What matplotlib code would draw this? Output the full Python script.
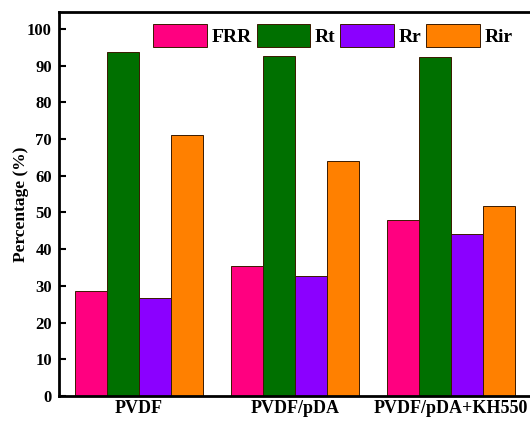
import numpy as np
from matplotlib import pyplot as plt

# data
membranes = ["PVDF", "PVDF/pDA", "PVDF/pDA+KH550"]
series = ["FRR", "Rt", "Rr", "Rir"]
frr = [28.6, 35.3, 47.9]
rt = [93.6, 92.5, 92.3]
rr = [26.7, 32.8, 44.1]
rir = [71.0, 64.1, 51.8]
colors = ["#FF0080", "#007000", "#8B00FF", "#FF8000"]

plt.rcParams['font.family'] = ['Liberation Serif', 'DejaVu Serif']
plt.rcParams['font.weight'] = 'bold'

fig = plt.figure(figsize=(5.3, 4.21), dpi=100)
ax = fig.add_axes([0.111, 0.0594, 0.8906, 0.912])

x = np.arange(len(membranes))
w = 0.205
for i, (name, vals) in enumerate(zip(series, [frr, rt, rr, rir])):
    ax.bar(x + (i - 1.5) * w, vals, w, color=colors[i], edgecolor="#3a1a00",
           linewidth=0.7, label=name)

ax.set_xlim(-0.513, 2.513)
ax.set_ylim(0, 104.6)
ax.set_yticks(np.arange(0, 101, 10))
ax.set_xticks(x)
ax.set_xticklabels(membranes, fontsize=13, fontweight='bold')
ax.tick_params(axis='y', direction='in', length=5, width=1.5, labelsize=12, pad=5)
ax.tick_params(axis='x', length=0, pad=3)
for s in ax.spines.values():
    s.set_linewidth(2)
ax.set_ylabel("Percentage (%)", fontsize=12.5, fontweight='bold', labelpad=-1.5)

ax.legend(loc='upper left', bbox_to_anchor=(0.2, 0.97), ncol=4, frameon=False,
          fontsize=14, handlelength=2.75, handleheight=1.5, handletextpad=0.25,
          columnspacing=0.25, borderpad=0, borderaxespad=0)

fig.savefig("out.png", dpi=100)
